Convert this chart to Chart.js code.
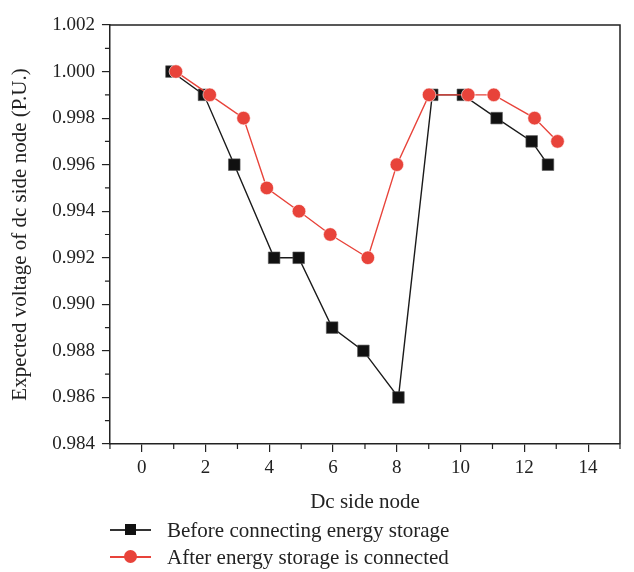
<!DOCTYPE html>
<html><head><meta charset="utf-8">
<script src="https://cdn.jsdelivr.net/npm/chart.js@4/dist/chart.umd.min.js"></script>
<style>
html,body{margin:0;padding:0;background:#fff;}
#wrap{position:relative;width:634px;height:572px;}
#c{position:absolute;left:0;top:0;}
.leg{position:absolute;left:110px;height:24px;font-family:"Liberation Serif",serif;font-size:21px;color:#222;display:flex;align-items:center;white-space:nowrap;}
.sym{position:relative;width:41px;height:24px;margin-right:16px;}
.sym .ln{position:absolute;left:0;top:11px;width:41px;height:1.5px;}
.sym .mk{position:absolute;}
</style></head>
<body>
<div id="wrap">
<canvas id="c" width="634" height="572"></canvas>
<div class="leg" style="top:518px;"><div class="sym"><div class="ln" style="background:#333"></div><div class="mk" style="background:#111;left:15px;top:6px;width:11px;height:11px"></div></div><span>Before connecting energy storage</span></div>
<div class="leg" style="top:545px;"><div class="sym"><div class="ln" style="background:#E8433A"></div><div class="mk" style="background:#E8433A;border-radius:50%;left:14px;top:5px;width:13px;height:13px"></div></div><span>After energy storage is connected</span></div>
</div>
<script>
// ---- data ----
const nodesBefore  = [0.93, 1.95, 2.9, 4.15, 4.92, 5.97, 6.95, 8.05, 9.11, 10.07, 11.13, 12.23, 12.74];
const valuesBefore = [1.000, 0.999, 0.996, 0.992, 0.992, 0.989, 0.988, 0.986, 0.999, 0.999, 0.998, 0.997, 0.996];
const nodesAfter   = [1.07, 2.13, 3.19, 3.92, 4.93, 5.91, 7.09, 8.0, 9.01, 10.24, 11.04, 12.32, 13.04];
const valuesAfter  = [1.000, 0.999, 0.998, 0.995, 0.994, 0.993, 0.992, 0.996, 0.999, 0.999, 0.999, 0.998, 0.997];
const seriesNames  = ["Before connecting energy storage", "After energy storage is connected"];
const xMajorTicks  = [0, 2, 4, 6, 8, 10, 12, 14];
const xMinorTicks  = [-1, 1, 3, 5, 7, 9, 11, 13, 15];
const yMajorTicks  = [0.984, 0.986, 0.988, 0.990, 0.992, 0.994, 0.996, 0.998, 1.000, 1.002];
const yTickLabels  = ["0.984", "0.986", "0.988", "0.990", "0.992", "0.994", "0.996", "0.998", "1.000", "1.002"];
const yMinorTicks  = [0.985, 0.987, 0.989, 0.991, 0.993, 0.995, 0.997, 0.999, 1.001];
const xTitle = "Dc side node";
const yTitle = "Expected voltage of dc side node (P.U.)";

const FONT = "'Liberation Serif', serif";
const AXIS = "#222";

const framePlugin = {
  id: 'frame',
  afterDraw(chart) {
    const {ctx, chartArea: a, scales} = chart;
    ctx.save();
    ctx.strokeStyle = AXIS;
    ctx.lineWidth = 1.5;
    ctx.beginPath();
    ctx.moveTo(a.left, a.top); ctx.lineTo(a.right, a.top); ctx.lineTo(a.right, a.bottom);
    ctx.stroke();
    // minor ticks
    ctx.lineWidth = 1.2;
    ctx.beginPath();
    xMinorTicks.forEach(v => { const px = scales.x.getPixelForValue(v); ctx.moveTo(px, a.bottom); ctx.lineTo(px, a.bottom + 5); });
    yMinorTicks.forEach(v => { const py = scales.y.getPixelForValue(v); ctx.moveTo(a.left, py); ctx.lineTo(a.left - 5, py); });
    ctx.stroke();
    ctx.restore();
  }
};

new Chart(document.getElementById('c'), {
  type: 'scatter',
  data: {
    datasets: [
      {
        label: seriesNames[0],
        data: nodesBefore.map((x, i) => ({x, y: valuesBefore[i]})),
        showLine: true,
        borderColor: '#1a1a1a',
        backgroundColor: '#111',
        borderWidth: 1.4,
        pointStyle: 'rect',
        pointRadius: 8.2,
        pointBorderColor: '#555',
        pointBorderWidth: 0.6,
        pointBackgroundColor: '#111',
        order: 2
      },
      {
        label: seriesNames[1],
        data: nodesAfter.map((x, i) => ({x, y: valuesAfter[i]})),
        showLine: true,
        borderColor: '#E8433A',
        backgroundColor: '#E8433A',
        borderWidth: 1.4,
        pointStyle: 'circle',
        pointRadius: 6.8,
        pointBorderColor: '#fff',
        pointBorderWidth: 0.6,
        pointBackgroundColor: '#E8433A',
        order: 1
      }
    ]
  },
  options: {
    responsive: false,
    animation: false,
    devicePixelRatio: 1,
    layout: {padding: {left: 8, right: 14, top: 25, bottom: 57}},
    plugins: {legend: {display: false}, tooltip: {enabled: false}},
    scales: {
      x: {
        type: 'linear', min: -1, max: 15,
        afterBuildTicks(s) { s.ticks = xMajorTicks.map(v => ({value: v})); },
        ticks: {
          autoSkip: false, maxRotation: 0, padding: 5, color: AXIS,
          font: {family: FONT, size: 19},
          callback: (v) => String(v)
        },
        grid: {drawOnChartArea: false, drawTicks: true, tickLength: 8, color: AXIS, lineWidth: 1.2},
        border: {display: true, color: AXIS, width: 1.5},
        title: {display: true, text: xTitle, color: AXIS, font: {family: FONT, size: 21}, padding: {top: 5, bottom: 0}}
      },
      y: {
        type: 'linear', min: 0.984, max: 1.002,
        afterBuildTicks(s) { s.ticks = yMajorTicks.map(v => ({value: v})); },
        ticks: {
          autoSkip: false, padding: 7, color: AXIS,
          font: {family: FONT, size: 19},
          callback: (v) => { const i = yMajorTicks.indexOf(v); return i >= 0 ? yTickLabels[i] : ''; }
        },
        grid: {drawOnChartArea: false, drawTicks: true, tickLength: 8, color: AXIS, lineWidth: 1.2},
        border: {display: true, color: AXIS, width: 1.5},
        title: {display: true, text: yTitle, color: AXIS, font: {family: FONT, size: 21}, padding: {top: 0, bottom: 12}}
      }
    }
  },
  plugins: [framePlugin]
});
</script>
</body></html>
